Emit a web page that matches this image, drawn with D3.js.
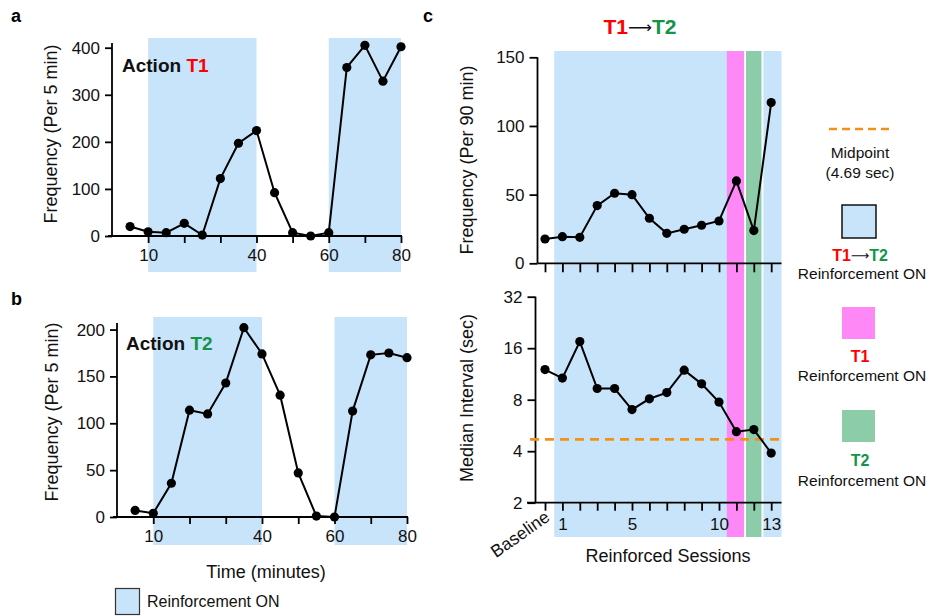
<!DOCTYPE html>
<html>
<head>
<meta charset="utf-8">
<script src="https://cdn.jsdelivr.net/npm/d3@7"></script>
<style>
  body { margin: 0; background: #fff; }
  text { font-family: "Liberation Sans", Arial, sans-serif; }
</style>
</head>
<body>
<script>
// ---- data ----
var timeMin = [5, 10, 15, 20, 25, 30, 35, 40, 45, 50, 55, 60, 65, 70, 75, 80];
var t1Freq = [20, 9, 7, 27, 2, 122, 197, 224, 92, 7, 0, 7, 358, 405, 329, 402];
var t2Freq = [7, 4, 36, 114, 110, 143, 202, 174, 130, 47, 1, 0, 113, 173, 175, 170];
var reinfPeriods = [[10, 40], [60, 80]];
var timeTicks = [10, 20, 30, 40, 50, 60, 70, 80];
var timeTickLabels = ['10', '', '', '40', '', '60', '', '80'];

var sessionLabels = ['Baseline', '1', '2', '3', '4', '5', '6', '7', '8', '9', '10', '11', '12', '13'];
var sessionShown = ['1', '5', '10', '13'];
var sessionFreq = [17.7, 19.4, 18.9, 42, 51, 50, 32.8, 21.8, 24.8, 27.7, 30.8, 60, 23.8, 117];
var sessionMedian = [12.0, 10.7, 17.5, 9.3, 9.3, 7.0, 8.1, 8.8, 11.9, 9.9, 7.75, 5.2, 5.35, 3.9];
var midpoint = 4.69;
var freqTicksA = [0, 100, 200, 300, 400];
var freqTicksB = [0, 50, 100, 150, 200];
var freqTicksC = [0, 50, 100, 150];
var medianTicks = [2, 4, 8, 16, 32];

var blue = '#c8e4fb', pink = '#ff88f7', green = '#8dcca8';
var red = '#ff0000', dkgreen = '#139447', orange = '#f39019';

var svg = d3.select('body').append('svg')
    .attr('width', 929)
    .attr('height', 616);

function styleAxis(g, size) {
    g.select('.domain').remove();
    g.selectAll('line').attr('stroke', '#000').attr('stroke-width', 1.8);
    g.selectAll('text').attr('font-size', size || 17).attr('fill', '#111')
        .style('font-family', '"Liberation Sans", Arial, sans-serif');
}

// time panels a and b
function timePanel(opt) {
    var x = d3.scaleLinear().domain([0, 80]).range([opt.left, opt.right]);
    var y = d3.scaleLinear().domain([0, opt.ymax]).range([opt.bottom, opt.top]);

    // shaded reinforcement periods
    svg.append('g').selectAll('rect').data(reinfPeriods).enter().append('rect')
        .attr('x', function(d) { return x(d[0]); })
        .attr('width', function(d) { return x(d[1]) - x(d[0]); })
        .attr('y', opt.shadeTop)
        .attr('height', opt.shadeBottom - opt.shadeTop)
        .attr('fill', blue);

    var gx = svg.append('g').attr('transform', 'translate(0,' + opt.bottom + ')')
        .call(d3.axisBottom(x).tickValues(timeTicks).tickSize(7).tickPadding(6)
            .tickFormat(function(d, i) { return timeTickLabels[i]; }));
    styleAxis(gx);
    var gy = svg.append('g').attr('transform', 'translate(' + opt.left + ',0)')
        .call(d3.axisLeft(y).tickValues(opt.ticks).tickSize(7).tickPadding(5));
    styleAxis(gy);

    svg.append('line').attr('x1', opt.left - 4).attr('x2', opt.right + 1)
        .attr('y1', opt.bottom).attr('y2', opt.bottom)
        .attr('stroke', '#000').attr('stroke-width', 1.8);
    svg.append('line').attr('x1', opt.left).attr('x2', opt.left)
        .attr('y1', opt.bottom).attr('y2', opt.top)
        .attr('stroke', '#000').attr('stroke-width', 1.8);

    var line = d3.line().x(function(d, i) { return x(timeMin[i]); }).y(function(d) { return y(d); });
    svg.append('path').datum(opt.values).attr('d', line)
        .attr('fill', 'none').attr('stroke', '#000').attr('stroke-width', 2);
    svg.append('g').selectAll('circle').data(opt.values).enter().append('circle')
        .attr('cx', function(d, i) { return x(timeMin[i]); })
        .attr('cy', function(d) { return y(d); })
        .attr('r', 4.6).attr('fill', '#000');

    svg.append('text')
        .attr('transform', 'translate(' + opt.ylabX + ',' + opt.ylabY + ') rotate(-90)')
        .attr('text-anchor', 'middle').attr('font-size', 18).attr('fill', '#111')
        .text('Frequency (Per 5 min)');

    var t = svg.append('text').attr('x', opt.titleX).attr('y', opt.titleY)
        .attr('font-size', 19).attr('font-weight', 'bold');
    t.append('tspan').attr('fill', '#111').text('Action ');
    t.append('tspan').attr('fill', opt.tcolor).text(opt.tname);
}

timePanel({ left: 112, right: 401, top: 43, bottom: 236, ymax: 410, ticks: freqTicksA,
    shadeTop: 38, shadeBottom: 272, values: t1Freq, ylabX: 57, ylabY: 134,
    titleX: 122, titleY: 72, tname: 'T1', tcolor: red });
timePanel({ left: 117, right: 407, top: 323, bottom: 517, ymax: 207, ticks: freqTicksB,
    shadeTop: 317, shadeBottom: 545, values: t2Freq, ylabX: 58, ylabY: 412,
    titleX: 126, titleY: 350, tname: 'T2', tcolor: dkgreen });

svg.append('text').attr('x', 266).attr('y', 578).attr('text-anchor', 'middle')
    .attr('font-size', 18).attr('fill', '#111').text('Time (minutes)');
svg.append('rect').attr('x', 115.5).attr('y', 588.5).attr('width', 24).attr('height', 26)
    .attr('fill', blue).attr('stroke', '#333').attr('stroke-width', 1.2);
svg.append('text').attr('x', 147).attr('y', 607).attr('font-size', 16)
    .attr('fill', '#111').text('Reinforcement ON');

// panel labels
[['a', 11, 22], ['b', 11, 305], ['c', 423, 22]].forEach(function(p) {
    svg.append('text').attr('x', p[1]).attr('y', p[2]).attr('font-size', 18)
        .attr('font-weight', 'bold').text(p[0]);
});

// panel c
var xs = d3.scaleLinear().domain([0, 13]).range([545, 771.2]);
var yF = d3.scaleLinear().domain([0, 150]).range([263.3, 57.3]);
var yM = d3.scaleLog().base(2).domain([2, 32]).range([502.7, 296.7]);
var cTop = 51, cBottom = 537, cRight = 781.5;

svg.append('rect').attr('x', xs(0.53)).attr('width', cRight - xs(0.53))
    .attr('y', cTop).attr('height', cBottom - cTop).attr('fill', blue);
svg.append('rect').attr('x', xs(10.45)).attr('width', xs(11.45) - xs(10.45))
    .attr('y', cTop).attr('height', cBottom - cTop).attr('fill', pink);
svg.append('rect').attr('x', xs(11.55)).attr('width', xs(12.45) - xs(11.55))
    .attr('y', cTop).attr('height', cBottom - cTop).attr('fill', green);
// thin white gaps
[11.5, 12.5].forEach(function(s) {
    svg.append('rect').attr('x', xs(s) - 0.9).attr('width', 1.8)
        .attr('y', cTop).attr('height', cBottom - cTop).attr('fill', '#fff');
});

// top axes
var gxt = svg.append('g').attr('transform', 'translate(0,263.3)')
    .call(d3.axisBottom(xs).tickValues(d3.range(14)).tickSize(9).tickFormat(''));
styleAxis(gxt);
var gyt = svg.append('g').attr('transform', 'translate(537.5,0)')
    .call(d3.axisLeft(yF).tickValues(freqTicksC).tickSize(8).tickPadding(5));
styleAxis(gyt);
svg.append('line').attr('x1', 537.5).attr('x2', cRight).attr('y1', 263.3).attr('y2', 263.3)
    .attr('stroke', '#000').attr('stroke-width', 1.8);
svg.append('line').attr('x1', 537.5).attr('x2', 537.5).attr('y1', 263.3).attr('y2', 57.3)
    .attr('stroke', '#000').attr('stroke-width', 1.8);

// bottom axes
var gxb = svg.append('g').attr('transform', 'translate(0,502.7)')
    .call(d3.axisBottom(xs).tickValues(d3.range(14)).tickSize(8).tickPadding(7)
        .tickFormat(function(d) {
            var l = sessionLabels[d];
            return sessionShown.indexOf(l) >= 0 ? l : '';
        }));
styleAxis(gxb);
gxb.append('text')
    .attr('transform', 'translate(' + (xs(0) + 6) + ',17) rotate(-35)')
    .attr('text-anchor', 'end').attr('font-size', 17.5).attr('fill', '#111')
    .text(sessionLabels[0]);
var gyb = svg.append('g').attr('transform', 'translate(535.5,0)')
    .call(d3.axisLeft(yM).tickValues(medianTicks).tickSize(8).tickPadding(5)
        .tickFormat(d3.format('d')));
styleAxis(gyb);
svg.append('line').attr('x1', 527).attr('x2', cRight).attr('y1', 502.7).attr('y2', 502.7)
    .attr('stroke', '#000').attr('stroke-width', 1.8);
svg.append('line').attr('x1', 535.5).attr('x2', 535.5).attr('y1', 502.7).attr('y2', 296.7)
    .attr('stroke', '#000').attr('stroke-width', 1.8);

// midpoint
svg.append('line').attr('x1', 530).attr('x2', cRight)
    .attr('y1', yM(midpoint)).attr('y2', yM(midpoint))
    .attr('stroke', orange).attr('stroke-width', 2.6).attr('stroke-dasharray', '9,6');

// series
var lineF = d3.line().x(function(d, i) { return xs(i); }).y(function(d) { return yF(d); });
var lineM = d3.line().x(function(d, i) { return xs(i); }).y(function(d) { return yM(d); });
svg.append('path').datum(sessionFreq).attr('d', lineF)
    .attr('fill', 'none').attr('stroke', '#000').attr('stroke-width', 2);
svg.append('path').datum(sessionMedian).attr('d', lineM)
    .attr('fill', 'none').attr('stroke', '#000').attr('stroke-width', 2);
svg.append('g').selectAll('circle').data(sessionFreq).enter().append('circle')
    .attr('cx', function(d, i) { return xs(i); }).attr('cy', function(d) { return yF(d); })
    .attr('r', 4.6).attr('fill', '#000');
svg.append('g').selectAll('circle').data(sessionMedian).enter().append('circle')
    .attr('cx', function(d, i) { return xs(i); }).attr('cy', function(d) { return yM(d); })
    .attr('r', 4.6).attr('fill', '#000');

// axis titles
svg.append('text').attr('transform', 'translate(473,160) rotate(-90)')
    .attr('text-anchor', 'middle').attr('font-size', 18).attr('fill', '#111')
    .text('Frequency (Per 90 min)');
svg.append('text').attr('transform', 'translate(473,398) rotate(-90)')
    .attr('text-anchor', 'middle').attr('font-size', 18).attr('fill', '#111')
    .text('Median Interval (sec)');
svg.append('text').attr('x', 668).attr('y', 562).attr('text-anchor', 'middle')
    .attr('font-size', 18).attr('fill', '#111').text('Reinforced Sessions');

function t1t2(x, y, size) {
    var t = svg.append('text').attr('x', x).attr('y', y).attr('text-anchor', 'middle')
        .attr('font-size', size).attr('font-weight', 'bold');
    t.append('tspan').attr('fill', red).text('T1');
    t.append('tspan').attr('fill', '#111').attr('font-weight', 'normal')
        .style('font-family', '"DejaVu Sans", sans-serif').attr('font-size', size * 0.8)
        .attr('dy', -1).text('\u27F6');
    t.append('tspan').attr('fill', dkgreen).attr('dy', 1).text('T2');
}
t1t2(640, 34, 21);

// right legend
var lx = 860;
svg.append('line').attr('x1', 829).attr('x2', 891).attr('y1', 129).attr('y2', 129)
    .attr('stroke', orange).attr('stroke-width', 2.6).attr('stroke-dasharray', '8,5');
svg.append('text').attr('x', lx).attr('y', 158).attr('text-anchor', 'middle')
    .attr('font-size', 15.5).attr('fill', '#111').text('Midpoint');
svg.append('text').attr('x', lx).attr('y', 178).attr('text-anchor', 'middle')
    .attr('font-size', 15.5).attr('fill', '#111').text('(' + midpoint + ' sec)');
svg.append('rect').attr('x', 842).attr('y', 205).attr('width', 34).attr('height', 33)
    .attr('fill', blue).attr('stroke', '#111').attr('stroke-width', 1.5);
t1t2(lx, 261, 16);
svg.append('text').attr('x', 862).attr('y', 279).attr('text-anchor', 'middle')
    .attr('font-size', 15.5).attr('fill', '#111').text('Reinforcement ON');
svg.append('rect').attr('x', 842).attr('y', 307).attr('width', 33).attr('height', 32)
    .attr('fill', pink);
svg.append('text').attr('x', lx).attr('y', 362).attr('text-anchor', 'middle')
    .attr('font-size', 16).attr('font-weight', 'bold').attr('fill', red).text('T1');
svg.append('text').attr('x', 862).attr('y', 381).attr('text-anchor', 'middle')
    .attr('font-size', 15.5).attr('fill', '#111').text('Reinforcement ON');
svg.append('rect').attr('x', 842).attr('y', 410).attr('width', 33).attr('height', 32)
    .attr('fill', green);
svg.append('text').attr('x', lx).attr('y', 466).attr('text-anchor', 'middle')
    .attr('font-size', 16).attr('font-weight', 'bold').attr('fill', dkgreen).text('T2');
svg.append('text').attr('x', 862).attr('y', 486).attr('text-anchor', 'middle')
    .attr('font-size', 15.5).attr('fill', '#111').text('Reinforcement ON');
</script>
</body>
</html>
